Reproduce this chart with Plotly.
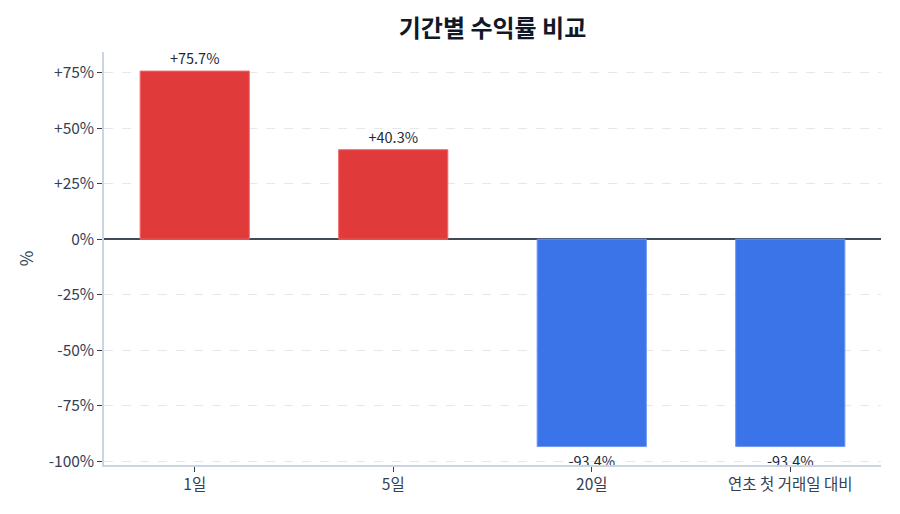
import plotly.graph_objects as go

# 기간별 수익률 (%)
periods = ['1일', '5일', '20일', '연초 첫 거래일 대비']
returns = [75.7, 40.3, -93.4, -93.4]
tick_vals = [-100, -75, -50, -25, 0, 25, 50, 75]
tick_text = ['-100%', '-75%', '-50%', '-25%', '0%', '+25%', '+50%', '+75%']

FONT = 'Noto Sans CJK KR'

colors = ['#E03A3A' if r >= 0 else '#3B73E8' for r in returns]
edges = ['#EF6B6B' if r >= 0 else '#6E97F0' for r in returns]
labels = ['{:+.1f}%'.format(r) for r in returns]

fig = go.Figure()
fig.add_trace(go.Bar(
    x=periods,
    y=returns,
    width=0.55,
    marker=dict(color=colors, line=dict(color=edges, width=1)),
    text=labels,
    textposition='outside',
    textfont=dict(family=FONT, size=14.5, color='#1f2937'),
    cliponaxis=False,
    hoverinfo='x+y',
))

fig.update_layout(
    width=900, height=514,
    paper_bgcolor='white', plot_bgcolor='white',
    margin=dict(l=96, r=27, t=44, b=57),
    font=dict(family=FONT, size=15, color='#334155'),
    title=dict(text='<b>기간별 수익률 비교</b>', xref='paper', x=0.5, xanchor='center',
               y=0.96, yanchor='middle', font=dict(family=FONT, size=24, color='#111827')),
    showlegend=False,
)
fig.update_xaxes(
    range=[-0.457, 3.457],
    showline=True, linecolor='#cbd5e1', linewidth=1.5,
    ticks='outside', ticklen=5, tickcolor='#334155',
    tickfont=dict(family=FONT, size=15.5, color='#334155'),
    showgrid=False,
)
fig.update_yaxes(
    range=[-101.7, 84.3],
    tickvals=tick_vals, ticktext=tick_text,
    showline=True, linecolor='#cbd5e1', linewidth=1.5,
    ticks='outside', ticklen=5, tickcolor='#334155',
    tickfont=dict(family=FONT, size=15.5, color='#334155'),
    showgrid=True, gridcolor='#e5e7eb', griddash='dash', gridwidth=1,
    zeroline=True, zerolinecolor='#3f4b5b', zerolinewidth=1.5,
    title=dict(text='%', font=dict(family=FONT, size=17, color='#334155'), standoff=11),
)

fig.write_html('out.html')
